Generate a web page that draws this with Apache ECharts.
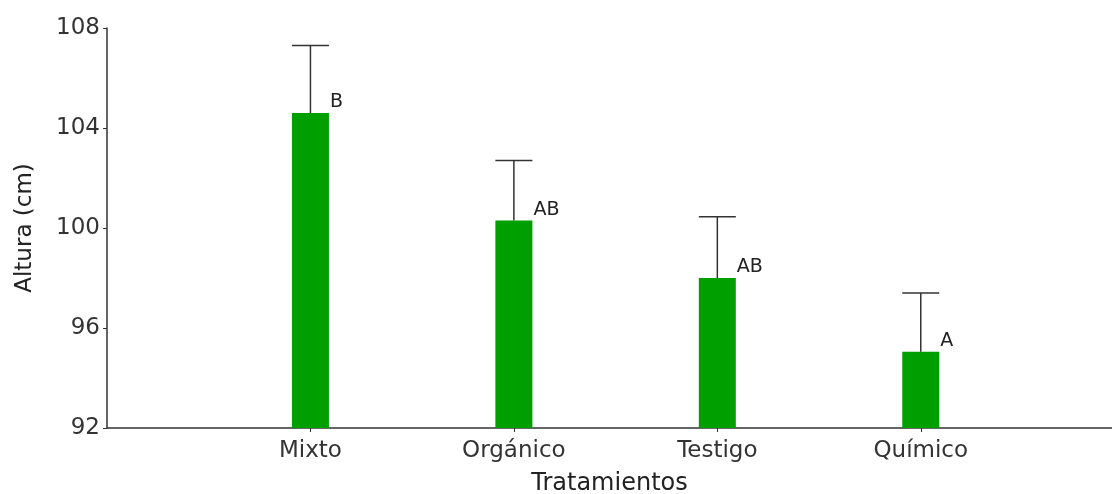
<!DOCTYPE html>
<html>
<head>
<meta charset="utf-8">
<script src="https://cdn.jsdelivr.net/npm/echarts@6/dist/echarts.min.js"></script>
<style>
  html, body { margin: 0; padding: 0; background: #fff; }
  #chart { width: 1112px; height: 494px; }
</style>
</head>
<body>
<div id="chart"></div>
<script>
// Plant height by treatment: mean, upper end of the error bar, and group letter
const categories = ['Mixto', 'Orgánico', 'Testigo', 'Químico'];
const means = [104.6, 100.3, 98.0, 95.05];
const upperErr = [107.3, 102.7, 100.45, 97.4];
const letters = ['B', 'AB', 'AB', 'A'];
const yTicks = [92, 96, 100, 104, 108];

// Treatments sit at positions 1..4 along a numeric x axis that runs past the last one
const positions = categories.map((c, i) => i + 1);
const barData = positions.map((p, i) => [p, means[i]]);
const errData = positions.map((p, i) => [p, means[i], upperErr[i], letters[i]]);

const FONT = 'DejaVu Sans';
const INK = '#333';
const BAR_W = 37;

const chart = echarts.init(document.getElementById('chart'), null, { renderer: 'canvas' });
chart.setOption({
  backgroundColor: '#ffffff',
  animation: false,
  grid: { left: 107, right: 0, top: 28, bottom: 66, outerBoundsMode: 'none', containLabel: false },
  xAxis: {
    type: 'value',
    min: 0,
    max: 4.94,
    interval: 1,
    name: 'Tratamientos',
    nameLocation: 'middle',
    nameGap: 44,
    nameTextStyle: { fontFamily: FONT, fontSize: 24, color: '#222' },
    axisLine: { show: true, lineStyle: { color: INK, width: 1.5 } },
    axisTick: { show: true, length: 4, lineStyle: { color: INK }, customValues: positions },
    axisLabel: {
      fontFamily: FONT, fontSize: 23, color: '#333', margin: 12,
      customValues: positions,
      formatter: v => categories[Math.round(v) - 1] || ''
    },
    splitLine: { show: false }
  },
  yAxis: {
    type: 'value',
    min: yTicks[0],
    max: yTicks[yTicks.length - 1],
    interval: yTicks[1] - yTicks[0],
    name: 'Altura (cm)',
    nameLocation: 'middle',
    nameGap: 70,
    nameTextStyle: { fontFamily: FONT, fontSize: 23, color: '#222' },
    axisLine: { show: true, lineStyle: { color: INK, width: 1.5 } },
    axisTick: { show: true, length: 4, lineStyle: { color: INK } },
    axisLabel: { fontFamily: FONT, fontSize: 23, color: '#333', margin: 7 },
    splitLine: { show: false }
  },
  series: [
    {
      type: 'bar',
      data: barData,
      barWidth: BAR_W,
      itemStyle: { color: '#009f00' }
    },
    {
      type: 'custom',
      data: errData,
      z: 5,
      renderItem: function (params, api) {
        const x = api.value(0);
        const base = api.coord([x, api.value(1)]);
        const top = api.coord([x, api.value(2)]);
        const half = BAR_W / 2;
        return {
          type: 'group',
          children: [
            { type: 'line', shape: { x1: base[0], y1: base[1], x2: top[0], y2: top[1] },
              style: { stroke: INK, lineWidth: 1.5 } },
            { type: 'line', shape: { x1: top[0] - half, y1: top[1], x2: top[0] + half, y2: top[1] },
              style: { stroke: INK, lineWidth: 1.5 } },
            { type: 'text', x: base[0] + half + 1, y: base[1] - 1,
              style: { text: api.value(3), fill: '#222', font: '19px "' + FONT + '"',
                       textAlign: 'left', textVerticalAlign: 'bottom' } }
          ]
        };
      }
    }
  ]
});
</script>
</body>
</html>
